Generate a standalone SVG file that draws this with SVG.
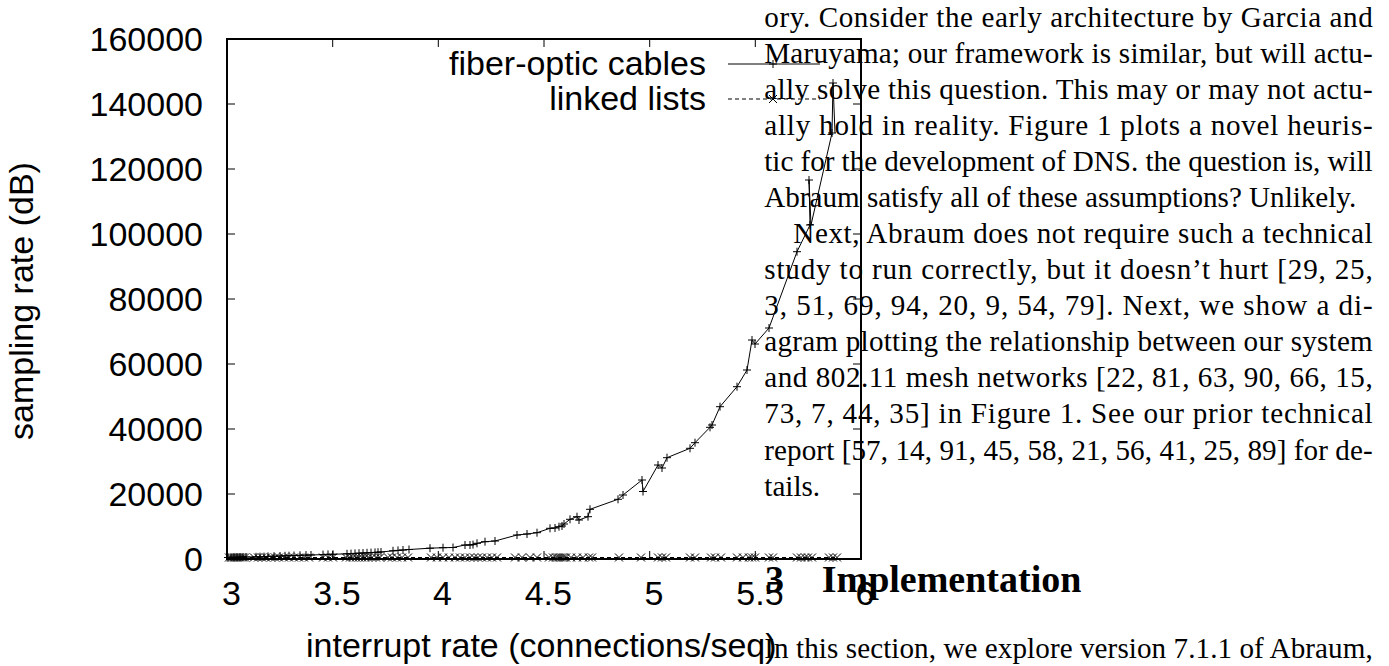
<svg xmlns="http://www.w3.org/2000/svg" xmlns:xlink="http://www.w3.org/1999/xlink" width="1389" height="666" viewBox="0 0 1389 666">
<style>
.ax{font-family:"Liberation Sans",Arial,sans-serif;font-size:34px;fill:#000}
.tx{font-family:"Liberation Serif","Times New Roman",serif;font-size:29.1px;fill:#000}
.hd{font-family:"Liberation Serif","Times New Roman",serif;font-size:38px;font-weight:bold;fill:#000}
.frame{fill:none;stroke:#000;stroke-width:2}
.tick{stroke:#000;stroke-width:1;fill:none}
.mk{stroke:#000;stroke-width:1;fill:none}
.solid{stroke:#000;stroke-width:1;fill:none}
.dash{stroke:#000;stroke-width:1;fill:none;stroke-dasharray:4 3}
</style>
<defs>
<path id="plus" class="mk" d="M-4,0H4M0,-4V4"/>
<path id="cross" class="mk" d="M-4,-4L4,4M-4,4L4,-4"/>
</defs>
<rect x="0" y="0" width="1389" height="666" fill="#fff"/>

<g id="axes">
<rect class="frame" x="227" y="39" width="634" height="520"/>
<path class="tick" d="M227,104h8M227,169h8M227,234h8M227,299h8M227,364h8M227,429h8M227,494h8M861,104h-8M861,169h-8M861,234h-8M861,299h-8M861,364h-8M861,429h-8M861,494h-8M332.7,559v-8M438.3,559v-8M544,559v-8M649.7,559v-8M755.3,559v-8M332.7,39v8M438.3,39v8M544,39v8M649.7,39v8M755.3,39v8"/>
<g class="ax" text-anchor="end">
<text x="203" y="51">160000</text>
<text x="203" y="116">140000</text>
<text x="203" y="181">120000</text>
<text x="203" y="246">100000</text>
<text x="203" y="311">80000</text>
<text x="203" y="376">60000</text>
<text x="203" y="441">40000</text>
<text x="203" y="506">20000</text>
<text x="203" y="571">0</text>
</g>
<g class="ax" text-anchor="middle">
<text x="231.5" y="605">3</text>
<text x="337" y="605">3.5</text>
<text x="442.5" y="605">4</text>
<text x="548.3" y="605">4.5</text>
<text x="654" y="605">5</text>
<text x="760" y="605">5.5</text>
<text x="865" y="605">6</text>
</g>
<text class="ax" x="306" y="657">interrupt rate (connections/seq)</text>
<text class="ax" text-anchor="middle" transform="translate(33,301) rotate(-90)">sampling rate (dB)</text>
</g>

<g id="legend">
<text class="ax" x="706" y="75" text-anchor="end">fiber-optic cables</text>
<text class="ax" x="706" y="110" text-anchor="end">linked lists</text>
<line class="solid" x1="728" y1="64" x2="820" y2="64"/>
<line class="dash" x1="728" y1="99" x2="820" y2="99"/>
<use xlink:href="#plus" x="773" y="64"/>
<use xlink:href="#cross" x="773" y="99"/>
</g>

<g id="series-linked-lists">
<polyline class="dash" points="229,557.5 837,557.5"/>
<g>
<use xlink:href="#cross" x="229" y="557.5"/><use xlink:href="#cross" x="231" y="557.5"/><use xlink:href="#cross" x="233" y="557.5"/><use xlink:href="#cross" x="235" y="557.5"/><use xlink:href="#cross" x="237" y="557.5"/><use xlink:href="#cross" x="239" y="557.5"/><use xlink:href="#cross" x="241" y="557.5"/><use xlink:href="#cross" x="243" y="557.5"/><use xlink:href="#cross" x="245" y="557.5"/>
<use xlink:href="#cross" x="254" y="557.5"/><use xlink:href="#cross" x="258" y="557.5"/><use xlink:href="#cross" x="262" y="557.5"/><use xlink:href="#cross" x="266" y="557.5"/>
<use xlink:href="#cross" x="271" y="557.5"/><use xlink:href="#cross" x="275" y="557.5"/><use xlink:href="#cross" x="279" y="557.5"/><use xlink:href="#cross" x="284" y="557.5"/><use xlink:href="#cross" x="289" y="557.5"/><use xlink:href="#cross" x="294" y="557.5"/><use xlink:href="#cross" x="299" y="557.5"/><use xlink:href="#cross" x="304" y="557.5"/><use xlink:href="#cross" x="309" y="557.5"/>
<use xlink:href="#cross" x="323" y="557.5"/><use xlink:href="#cross" x="328" y="557.5"/><use xlink:href="#cross" x="333" y="557.5"/>
<use xlink:href="#cross" x="346" y="557.5"/><use xlink:href="#cross" x="350" y="557.5"/><use xlink:href="#cross" x="353" y="557.5"/><use xlink:href="#cross" x="356" y="557.5"/><use xlink:href="#cross" x="359" y="557.5"/><use xlink:href="#cross" x="362" y="557.5"/><use xlink:href="#cross" x="365" y="557.5"/><use xlink:href="#cross" x="368" y="557.5"/><use xlink:href="#cross" x="372" y="557.5"/><use xlink:href="#cross" x="376" y="557.5"/><use xlink:href="#cross" x="380" y="557.5"/>
<use xlink:href="#cross" x="388" y="557.5"/><use xlink:href="#cross" x="392" y="557.5"/><use xlink:href="#cross" x="397" y="557.5"/><use xlink:href="#cross" x="402" y="557.5"/><use xlink:href="#cross" x="408" y="557.5"/>
<use xlink:href="#cross" x="431" y="557.5"/><use xlink:href="#cross" x="437" y="557.5"/><use xlink:href="#cross" x="443" y="557.5"/><use xlink:href="#cross" x="449" y="557.5"/><use xlink:href="#cross" x="455" y="557.5"/><use xlink:href="#cross" x="460" y="557.5"/>
<use xlink:href="#cross" x="465" y="557.5"/><use xlink:href="#cross" x="470" y="557.5"/><use xlink:href="#cross" x="474" y="557.5"/><use xlink:href="#cross" x="478" y="557.5"/><use xlink:href="#cross" x="482" y="557.5"/><use xlink:href="#cross" x="487" y="557.5"/><use xlink:href="#cross" x="492" y="557.5"/><use xlink:href="#cross" x="497" y="557.5"/>
<use xlink:href="#cross" x="515" y="557.5"/><use xlink:href="#cross" x="522" y="557.5"/><use xlink:href="#cross" x="530" y="557.5"/><use xlink:href="#cross" x="537" y="557.5"/>
<use xlink:href="#cross" x="549" y="557.5"/><use xlink:href="#cross" x="553" y="557.5"/><use xlink:href="#cross" x="556" y="557.5"/><use xlink:href="#cross" x="558" y="557.5"/><use xlink:href="#cross" x="560" y="557.5"/><use xlink:href="#cross" x="562" y="557.5"/><use xlink:href="#cross" x="564" y="557.5"/><use xlink:href="#cross" x="566" y="557.5"/>
<use xlink:href="#cross" x="571" y="557.5"/><use xlink:href="#cross" x="577" y="557.5"/><use xlink:href="#cross" x="583" y="557.5"/><use xlink:href="#cross" x="589" y="557.5"/><use xlink:href="#cross" x="592" y="557.5"/>
<use xlink:href="#cross" x="619" y="557.5"/><use xlink:href="#cross" x="641" y="557.5"/>
<use xlink:href="#cross" x="658" y="557.5"/><use xlink:href="#cross" x="662" y="557.5"/><use xlink:href="#cross" x="666" y="557.5"/>
<use xlink:href="#cross" x="690" y="557.5"/><use xlink:href="#cross" x="695" y="557.5"/>
<use xlink:href="#cross" x="711" y="557.5"/><use xlink:href="#cross" x="715" y="557.5"/><use xlink:href="#cross" x="721" y="557.5"/>
<use xlink:href="#cross" x="737" y="557.5"/><use xlink:href="#cross" x="743" y="557.5"/><use xlink:href="#cross" x="749" y="557.5"/><use xlink:href="#cross" x="752" y="557.5"/><use xlink:href="#cross" x="755" y="557.5"/>
<use xlink:href="#cross" x="769" y="557.5"/><use xlink:href="#cross" x="773" y="557.5"/>
<use xlink:href="#cross" x="797" y="557.5"/><use xlink:href="#cross" x="801" y="557.5"/><use xlink:href="#cross" x="805" y="557.5"/><use xlink:href="#cross" x="808" y="557.5"/><use xlink:href="#cross" x="812" y="557.5"/>
<use xlink:href="#cross" x="829" y="557.5"/><use xlink:href="#cross" x="833" y="557.5"/><use xlink:href="#cross" x="837" y="557.5"/>
</g>
</g>

<g id="series-fiber-optic">
<polyline class="solid" points="228,557.5 231,557.4 234,557.3 237,557.2 240,557.1 243,557 246,557 256,556.8 260,556.7 264,556.6 268,556.4 274,556.2 280,556 285,555.8 289,555.7 294,555.5 300,555.3 306,555.1 311,555 323,554.6 328,554.4 333,554.3 347,553.8 351,553.6 355,553.4 359,553.2 363,553 367,552.8 371,552.6 375,552.4 378,552.2 381,552 393,550.8 398,550.4 403,550 409,549.5 430,548.2 443,547.7 453,547.5 465,545 470,545 473,544.6 477,543.3 485,541.7 495,541 517,535 527,534 537,532.7 550,528.3 555,528 559,526.7 562,526 564,524 570,519.3 577,516.7 579,520 588,516.7 590,509.3 618,499.3 623,495 642,480 643,491.5 658,465 662,468 667,457.7 690,448.3 695,442.7 710,427.3 712,425 720,406.7 737,386.7 747,370 752,340 755,344 769,328 797,251.7 810,225 809,180 811,225 832,133 833,83 835,133"/>
<g>
<use xlink:href="#plus" x="228" y="557.5"/><use xlink:href="#plus" x="231" y="557.4"/><use xlink:href="#plus" x="234" y="557.3"/><use xlink:href="#plus" x="237" y="557.2"/><use xlink:href="#plus" x="240" y="557.1"/><use xlink:href="#plus" x="243" y="557"/><use xlink:href="#plus" x="246" y="557"/>
<use xlink:href="#plus" x="256" y="556.8"/><use xlink:href="#plus" x="260" y="556.7"/><use xlink:href="#plus" x="264" y="556.6"/><use xlink:href="#plus" x="268" y="556.4"/><use xlink:href="#plus" x="274" y="556.2"/><use xlink:href="#plus" x="280" y="556"/><use xlink:href="#plus" x="285" y="555.8"/><use xlink:href="#plus" x="289" y="555.7"/><use xlink:href="#plus" x="294" y="555.5"/><use xlink:href="#plus" x="300" y="555.3"/><use xlink:href="#plus" x="306" y="555.1"/><use xlink:href="#plus" x="311" y="555"/>
<use xlink:href="#plus" x="323" y="554.6"/><use xlink:href="#plus" x="328" y="554.4"/><use xlink:href="#plus" x="333" y="554.3"/>
<use xlink:href="#plus" x="347" y="553.8"/><use xlink:href="#plus" x="351" y="553.6"/><use xlink:href="#plus" x="355" y="553.4"/><use xlink:href="#plus" x="359" y="553.2"/><use xlink:href="#plus" x="363" y="553"/><use xlink:href="#plus" x="367" y="552.8"/><use xlink:href="#plus" x="371" y="552.6"/><use xlink:href="#plus" x="375" y="552.4"/><use xlink:href="#plus" x="378" y="552.2"/><use xlink:href="#plus" x="381" y="552"/>
<use xlink:href="#plus" x="393" y="550.8"/><use xlink:href="#plus" x="398" y="550.4"/><use xlink:href="#plus" x="403" y="550"/><use xlink:href="#plus" x="409" y="549.5"/>
<use xlink:href="#plus" x="430" y="548.2"/><use xlink:href="#plus" x="443" y="547.7"/><use xlink:href="#plus" x="453" y="547.5"/>
<use xlink:href="#plus" x="465" y="545"/><use xlink:href="#plus" x="470" y="545"/><use xlink:href="#plus" x="473" y="544.6"/><use xlink:href="#plus" x="477" y="543.3"/><use xlink:href="#plus" x="485" y="541.7"/><use xlink:href="#plus" x="495" y="541"/>
<use xlink:href="#plus" x="517" y="535"/><use xlink:href="#plus" x="527" y="534"/><use xlink:href="#plus" x="537" y="532.7"/>
<use xlink:href="#plus" x="550" y="528.3"/><use xlink:href="#plus" x="555" y="528"/><use xlink:href="#plus" x="559" y="526.7"/><use xlink:href="#plus" x="562" y="526"/><use xlink:href="#plus" x="564" y="524"/>
<use xlink:href="#plus" x="570" y="519.3"/><use xlink:href="#plus" x="577" y="516.7"/><use xlink:href="#plus" x="579" y="520"/><use xlink:href="#plus" x="588" y="516.7"/><use xlink:href="#plus" x="590" y="509.3"/>
<use xlink:href="#plus" x="618" y="499.3"/><use xlink:href="#plus" x="623" y="495"/><use xlink:href="#plus" x="642" y="480"/><use xlink:href="#plus" x="643" y="491.5"/>
<use xlink:href="#plus" x="658" y="465"/><use xlink:href="#plus" x="662" y="468"/><use xlink:href="#plus" x="667" y="457.7"/>
<use xlink:href="#plus" x="690" y="448.3"/><use xlink:href="#plus" x="695" y="442.7"/><use xlink:href="#plus" x="710" y="427.3"/><use xlink:href="#plus" x="712" y="425"/><use xlink:href="#plus" x="720" y="406.7"/>
<use xlink:href="#plus" x="737" y="386.7"/><use xlink:href="#plus" x="747" y="370"/><use xlink:href="#plus" x="752" y="340"/><use xlink:href="#plus" x="755" y="344"/><use xlink:href="#plus" x="769" y="328"/>
<use xlink:href="#plus" x="797" y="251.7"/><use xlink:href="#plus" x="810" y="225"/><use xlink:href="#plus" x="809" y="180"/>
<use xlink:href="#plus" x="832" y="133"/><use xlink:href="#plus" x="833" y="83"/>
</g>
</g>

<g id="body-text">
<text class="tx" x="764.3" y="26.5" textLength="608.4" lengthAdjust="spacing">ory. Consider the early architecture by Garcia and</text>
<text class="tx" x="764.3" y="62.6" textLength="608.4" lengthAdjust="spacing">Maruyama; our framework is similar, but will actu-</text>
<text class="tx" x="764.3" y="98.7" textLength="608.4" lengthAdjust="spacing">ally solve this question. This may or may not actu-</text>
<text class="tx" x="764.3" y="134.7" textLength="608.4" lengthAdjust="spacing">ally hold in reality. Figure 1 plots a novel heuris-</text>
<text class="tx" x="764.3" y="170.8" textLength="608.4" lengthAdjust="spacing">tic for the development of DNS. the question is, will</text>
<text class="tx" x="764.3" y="206.9">Abraum satisfy all of these assumptions? Unlikely.</text>
<text class="tx" x="793.3" y="243" textLength="579.4" lengthAdjust="spacing">Next, Abraum does not require such a technical</text>
<text class="tx" x="764.3" y="279.1" textLength="608.4" lengthAdjust="spacing">study to run correctly, but it doesn’t hurt [29, 25,</text>
<text class="tx" x="764.3" y="315.1" textLength="608.4" lengthAdjust="spacing">3, 51, 69, 94, 20, 9, 54, 79]. Next, we show a di-</text>
<text class="tx" x="764.3" y="351.2" textLength="608.4" lengthAdjust="spacing">agram plotting the relationship between our system</text>
<text class="tx" x="764.3" y="387.3" textLength="608.4" lengthAdjust="spacing">and 802.11 mesh networks [22, 81, 63, 90, 66, 15,</text>
<text class="tx" x="764.3" y="423.4" textLength="608.4" lengthAdjust="spacing">73, 7, 44, 35] in Figure 1. See our prior technical</text>
<text class="tx" x="764.3" y="459.5" textLength="608.4" lengthAdjust="spacing">report [57, 14, 91, 45, 58, 21, 56, 41, 25, 89] for de-</text>
<text class="tx" x="764.3" y="495.5">tails.</text>
<text class="hd" x="765" y="591.7">3</text>
<text class="hd" x="821.7" y="591.7">Implementation</text>
<text class="tx" x="764.3" y="658" textLength="608.4" lengthAdjust="spacing">In this section, we explore version 7.1.1 of Abraum,</text>
</g>
</svg>
